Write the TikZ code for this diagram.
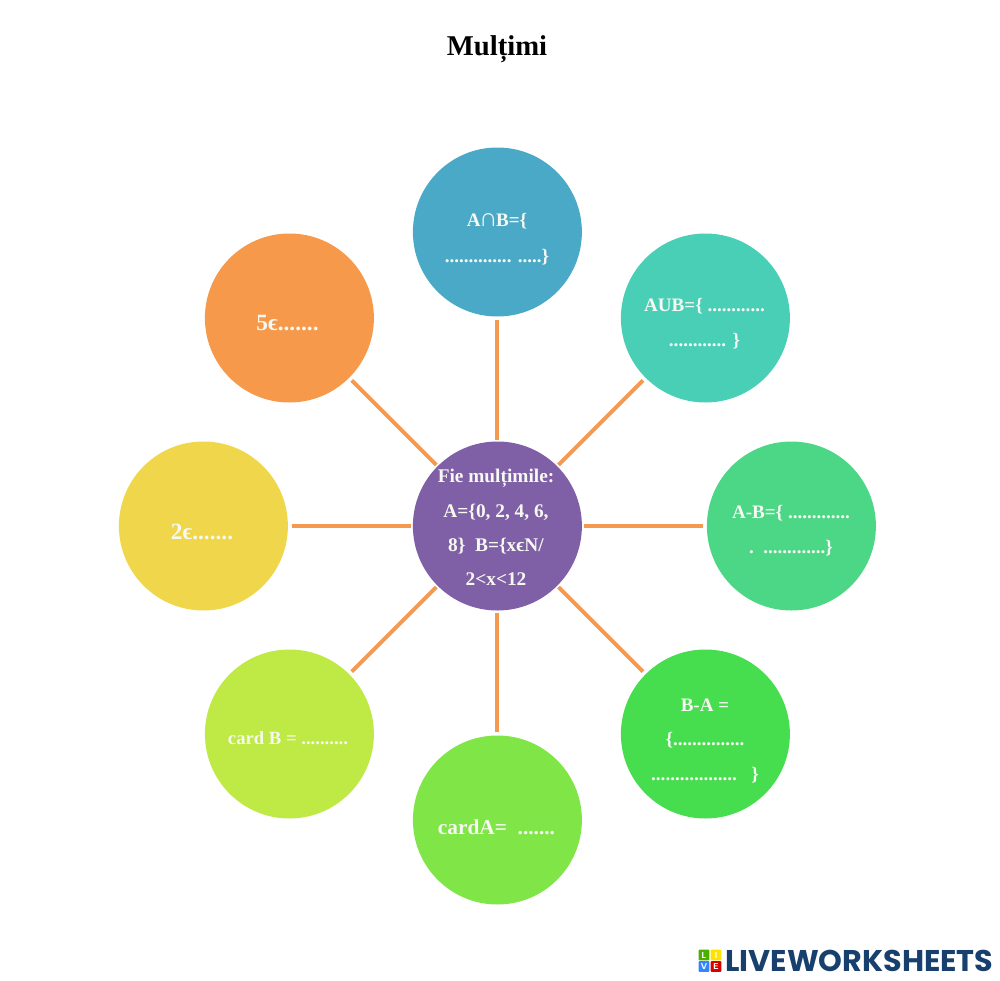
\documentclass[tikz,border=0pt]{standalone}
\usepackage{fontspec}
\usepackage{graphicx}
\setmainfont{Liberation Serif}
\newfontfamily\logofont{Poppins}
\newcommand{\fs}[1]{\fontsize{#1}{#1}\selectfont\bfseries}
\definecolor{cCenter}{HTML}{7F5FA5}
\definecolor{cTop}{HTML}{4BA9C8}
\definecolor{cUnion}{HTML}{4ACFB7}
\definecolor{cAmB}{HTML}{4CD786}
\definecolor{cBmA}{HTML}{46DD4F}
\definecolor{cCardA}{HTML}{80E648}
\definecolor{cCardB}{HTML}{BFE945}
\definecolor{cTwo}{HTML}{F0D64A}
\definecolor{cFive}{HTML}{F7994A}
\definecolor{cLine}{HTML}{F4994F}
\definecolor{cText}{HTML}{F6F8F2}
\definecolor{cLogo}{HTML}{17406E}
\tikzset{
  x=0.75pt,y=-0.75pt,
  blob/.style={circle,minimum size=126.75pt,inner sep=0pt,outer sep=0pt,fill=#1},
  txt/.style={text=cText,align=center,inner sep=0pt},
  spoke/.style={draw=cLine,line width=3pt,shorten <=1.5pt,shorten >=2.8pt},
  tile/.style={minimum size=8.2pt,inner sep=0pt,rounded corners=0.8pt,fill=#1,text=white,font=\fontsize{6.5pt}{6.5pt}\selectfont\bfseries\sffamily},
}
\begin{document}
\begin{tikzpicture}
\useasboundingbox (0,0) rectangle (1000,981);
\node[blob=cCenter] (c) at (497.4,526) {};
\node[blob=cTop] (n1) at (497.4,232) {};
\node[blob=cUnion] (n2) at (705.4,318) {};
\node[blob=cAmB] (n3) at (791.4,526) {};
\node[blob=cBmA] (n4) at (705.4,734) {};
\node[blob=cCardA] (n5) at (497.4,820) {};
\node[blob=cCardB] (n6) at (289.4,734) {};
\node[blob=cTwo] (n7) at (203.4,526) {};
\node[blob=cFive] (n8) at (289.4,318) {};
\foreach \i in {1,...,8} \draw[spoke] (c) -- (n\i);
\node[inner sep=0pt] (title) at (497,49) {\fs{21.5pt}Mulțimi};
\node[txt] (tc) at (496,530.5) {\fs{14.5pt}\begin{tabular}{@{}c@{}}Fie mulțimile:\\[11.2pt]A=\{0, 2, 4, 6,\\[11.2pt]8\}\ \ B=\{xϵN/\\[11.2pt]2<x<12\end{tabular}};
\node[txt] (t1) at (497,241) {\fs{14.3pt}\begin{tabular}{@{}c@{}}A\kern-1pt{\scalebox{1.35}{∩}}\kern-1.2ptB=\{\\[12.5pt].............. .....\}\end{tabular}};
\node[txt] (t2) at (704.5,325) {\fs{14.3pt}\begin{tabular}{@{}c@{}}AUB=\{ ............\\[11.7pt]............ \}\end{tabular}};
\node[txt] (t3) at (791,532) {\fs{14.3pt}\begin{tabular}{@{}c@{}}A-B=\{ .............\\[11.7pt].\ \ .............\}\end{tabular}};
\node[txt] (t4) at (705,742) {\fs{14.3pt}\begin{tabular}{@{}c@{}}B-A =\\[11.4pt]\{...............\\[11.4pt]..................\ \ \ \}\end{tabular}};
\node[txt] (t5) at (496.5,827) {\fs{16pt}cardA=\ \ .......};
\node[txt] (t6) at (288,738) {\fs{14pt}card B = ..........};
\node[txt] (t7) at (202,532) {\fs{17.5pt}2ϵ.......};
\node[txt] (t8) at (287.5,323) {\fs{17.5pt}5ϵ.......};
\node[tile=green!55!black!70!yellow,anchor=center] (l1) at (704,955) {L};
\node[tile=yellow!85!orange,anchor=center] (l2) at (716,955) {I};
\node[tile=blue!60!cyan!80,anchor=center] (l3) at (704,966.5) {V};
\node[tile=red!85!black,anchor=center] (l4) at (716,966.5) {E};
\node[anchor=west,inner sep=0pt,text=cLogo] (logo) at (725,960.5) {\resizebox{201pt}{16pt}{\logofont\bfseries LIVEWORKSHEETS}};
\end{tikzpicture}
\end{document}
